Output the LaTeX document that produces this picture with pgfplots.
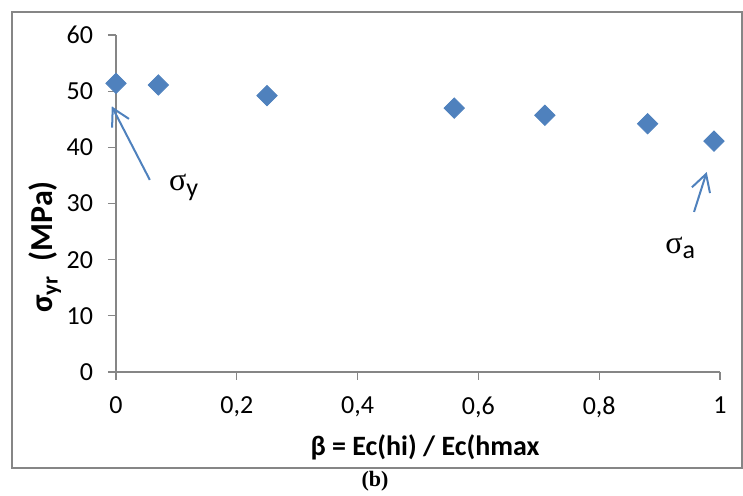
\documentclass[border=0pt]{standalone}
\usepackage{pgfplots}
\pgfplotsset{compat=1.18}
\usepackage{fontspec}
\setmainfont{Carlito}
\newfontfamily\serif{Liberation Serif}
\usetikzlibrary{arrows.meta}
\definecolor{xlblue}{HTML}{4F81BD}
\definecolor{xlgray}{HTML}{868686}

\begin{document}
\begin{tikzpicture}
  \path[use as bounding box] (-58pt,-62pt) rectangle (313.5pt,186pt);
  \begin{axis}[
    at={(0pt,0pt)}, anchor=south west,
    scale only axis, width=302pt, height=168.5pt,
    xmin=0, xmax=1, ymin=0, ymax=60,
    xtick={0,0.2,0.4,0.6,0.8,1},
    ytick={0,10,20,30,40,50,60},
    axis x line*=bottom, axis y line*=left,
    axis line style={xlgray, line width=0.65pt},
    tick style={xlgray, line width=0.65pt},
    tick align=outside, major tick length=4pt,
    /pgf/number format/use comma,
    /pgf/number format/assume math mode=true,
    ticklabel style={font=\fontsize{13}{15}\selectfont},
    xticklabel style={yshift=-5pt},
    yticklabel style={xshift=-4pt},
    clip=false,
  ]
    \addplot[only marks, mark=square*, mark size=3.6pt,
      mark options={rotate=45, fill=xlblue, draw=xlblue}]
      coordinates {
        (0,51.4) (0.07,51.1) (0.25,49.2) (0.56,47.0)
        (0.71,45.7) (0.88,44.2) (0.99,41.1)
      };
    % annotations
    \draw[xlblue, line width=1pt, -{Straight Barb[length=8.5pt,width=9.5pt]}]
      (axis cs:0.056,34.2) -- (axis cs:-0.007,47.3);
    \draw[xlblue, line width=1pt, -{Straight Barb[length=8.5pt,width=9.5pt]}]
      (axis cs:0.957,28.5) -- (axis cs:0.978,35.6);
    \node at (axis cs:0.113,32.9) {{\serif\fontsize{16}{16}\selectfont σ}\textsubscript{\fontsize{13}{13}\selectfont y}};
    \node at (axis cs:0.935,22.1) {{\serif\fontsize{16}{16}\selectfont σ}\textsubscript{\fontsize{13}{13}\selectfont a}};
  \end{axis}
  \draw[xlgray, line width=0.65pt] (-52pt,-48pt) rectangle (313pt,180pt);
  \node[rotate=90] at (-35.5pt,62.5pt)
    {\bfseries\fontsize{16}{16}\selectfont σ\textsubscript{yr}\ \ (MPa)};
  \node at (154.5pt,-37.5pt)
    {\bfseries\fontsize{14}{14}\selectfont β = Ec(hi) / Ec(hmax};
  \node[font=\serif\bfseries\fontsize{11}{11}\selectfont] at (129.5pt,-54.5pt) {(b)};
\end{tikzpicture}
\end{document}
